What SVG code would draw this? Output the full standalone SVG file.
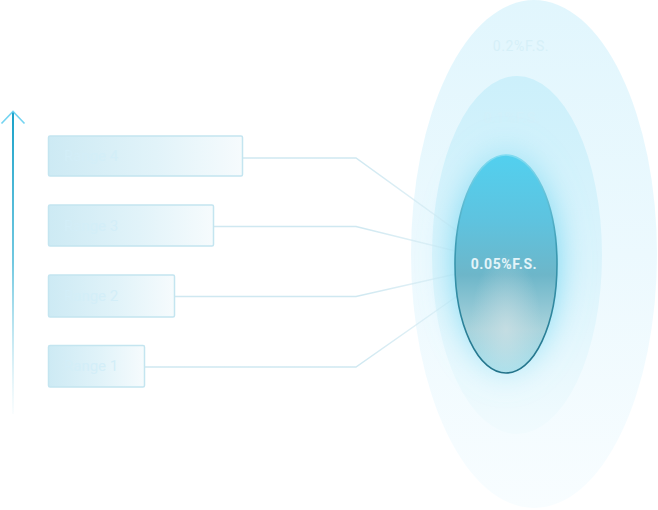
<svg xmlns="http://www.w3.org/2000/svg" width="658" height="510" viewBox="0 0 658 510">
<defs>
<linearGradient id="axisG" gradientUnits="userSpaceOnUse" x1="0" y1="112" x2="0" y2="414">
<stop offset="0" stop-color="#1aa2c9"/>
<stop offset="0.5" stop-color="#4fbbd9" stop-opacity="0.8"/>
<stop offset="1" stop-color="#9ad8ea" stop-opacity="0.05"/>
</linearGradient>
<linearGradient id="boxG" x1="0" y1="0" x2="1" y2="0">
<stop offset="0" stop-color="#cdeaf4"/>
<stop offset="0.55" stop-color="#e1f3f9"/>
<stop offset="1" stop-color="#f6fbfd"/>
</linearGradient>
<linearGradient id="outerG" x1="0" y1="0" x2="0" y2="1">
<stop offset="0" stop-color="#e1f6fd"/>
<stop offset="0.5" stop-color="#ecf9fe"/>
<stop offset="1" stop-color="#f8fdff"/>
</linearGradient>
<linearGradient id="midG" x1="0" y1="0" x2="0" y2="1">
<stop offset="0" stop-color="#ccf0fb"/>
<stop offset="0.55" stop-color="#dcf4fc"/>
<stop offset="1" stop-color="#f1fbfe"/>
</linearGradient>
<radialGradient id="glowG" cx="0.5" cy="0.5" r="0.5">
<stop offset="0.55" stop-color="#4ccbee" stop-opacity="0.7"/>
<stop offset="1" stop-color="#8fdff5" stop-opacity="0"/>
</radialGradient>
<linearGradient id="coreG" x1="0" y1="0" x2="0" y2="1">
<stop offset="0" stop-color="#52d0ef"/>
<stop offset="0.3" stop-color="#5ec3df"/>
<stop offset="0.55" stop-color="#6db6c9"/>
<stop offset="0.8" stop-color="#a9d3dc"/>
<stop offset="1" stop-color="#9fe0ee"/>
</linearGradient>
<radialGradient id="coreHi" cx="0.5" cy="0.8" r="0.35">
<stop offset="0" stop-color="#d6e3e6" stop-opacity="0.6"/>
<stop offset="1" stop-color="#d6e3e6" stop-opacity="0"/>
</radialGradient>
<linearGradient id="coreStroke" x1="0" y1="0" x2="0" y2="1">
<stop offset="0" stop-color="#7fdcf2"/>
<stop offset="0.45" stop-color="#3a98b0"/>
<stop offset="1" stop-color="#23738a"/>
</linearGradient>
<linearGradient id="lineG1" gradientUnits="userSpaceOnUse" x1="356" y1="0" x2="500" y2="0">
<stop offset="0" stop-color="#cfe8f1"/>
<stop offset="1" stop-color="#cfe8f1" stop-opacity="0.2"/>
</linearGradient>
<filter id="blur" x="-50%" y="-50%" width="200%" height="200%">
<feGaussianBlur stdDeviation="12"/>
</filter>
</defs>
<style>
.box{fill:url(#boxG);stroke:#c4e5f0;stroke-width:1.5}
.lbl{font-family:"Roboto","Liberation Sans",sans-serif;font-size:15px;fill:#d3eef8}
.conn{fill:none;stroke:url(#lineG1);stroke-width:1.5}
.ring{font-family:"Roboto","Liberation Sans",sans-serif;font-size:14px;text-anchor:middle;letter-spacing:0.6px}
</style>

<g id="axis">
<line x1="13" y1="112" x2="13" y2="414" stroke="url(#axisG)" stroke-width="2"/>
<polyline points="1.5,123.5 13,111.5 24.5,123.5" fill="none" stroke="#5ccdef" stroke-width="1.6" stroke-opacity="0.85"/>
</g>

<g id="ring-outer">
<ellipse cx="534" cy="254" rx="123" ry="254" fill="url(#outerG)"/>
<text class="ring" x="521" y="51" fill="#d6f0f8">0.2%F.S.</text>
</g>
<g id="ring-middle">
<ellipse cx="517" cy="255" rx="85" ry="179" fill="url(#midG)"/>
<text class="ring" x="512" y="123" fill="#d2f0fa">0.1%F.S.</text>
</g>

<g id="connectors">
<polyline class="conn" points="243,158 356,158 500,262"/>
<polyline class="conn" points="214,226.5 356,226.5 500,262"/>
<polyline class="conn" points="175,296.5 356,296.5 500,264"/>
<polyline class="conn" points="145,367 356,367 500,266"/>
</g>

<g id="ring-inner">
<ellipse cx="506" cy="262" rx="70" ry="128" fill="url(#glowG)" filter="url(#blur)"/>
<ellipse cx="506" cy="264" rx="51" ry="109" fill="url(#coreG)"/>
<ellipse cx="506" cy="264" rx="51" ry="109" fill="url(#coreHi)"/>
<ellipse cx="506" cy="264" rx="51" ry="109" fill="none" stroke="url(#coreStroke)" stroke-width="1.6"/>
<text class="ring" x="504" y="269" fill="#e3f4f9" font-weight="bold">0.05%F.S.</text>
</g>

<g id="range4">
<rect class="box" x="48.5" y="136" width="194" height="40" rx="1.5"/>
<text class="lbl" x="64" y="161">Range 4</text>
</g>
<g id="range3">
<rect class="box" x="48.5" y="205" width="165" height="41" rx="1.5"/>
<text class="lbl" x="64" y="231">Range 3</text>
</g>
<g id="range2">
<rect class="box" x="48.5" y="275" width="126" height="42" rx="1.5"/>
<text class="lbl" x="64" y="301">Range 2</text>
</g>
<g id="range1">
<rect class="box" x="48.5" y="345.5" width="96" height="41.5" rx="1.5"/>
<text class="lbl" x="64" y="371">Range 1</text>
</g>
</svg>
